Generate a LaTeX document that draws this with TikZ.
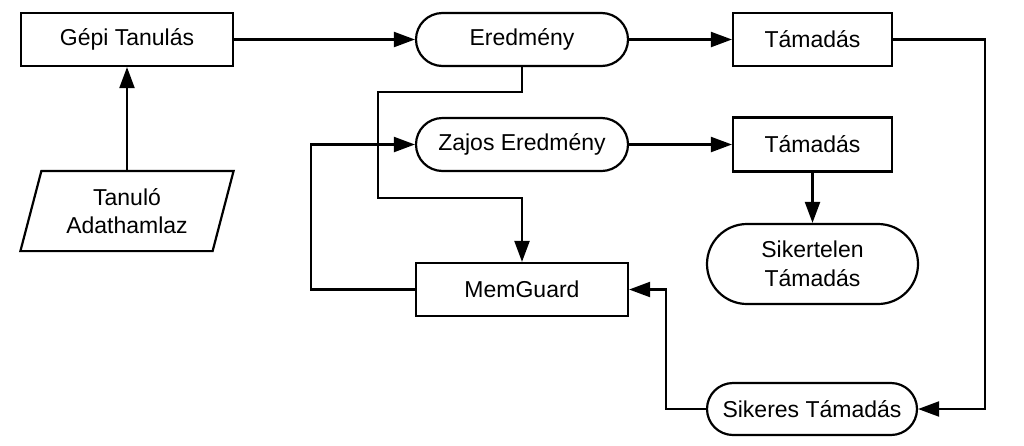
\documentclass[tikz,border=0pt]{standalone}
\usepackage{fontspec}
\setmainfont{Liberation Sans}
\usepackage{tikz}
\usetikzlibrary{shapes.misc,arrows.meta}

\begin{document}
\begin{tikzpicture}[x=1pt,y=-1pt,
  box/.style={draw,line width=2.2pt,minimum width=212pt,minimum height=53pt,inner sep=0pt,align=center,font=\fontsize{23}{28.5}\selectfont},
  pill/.style={box,rounded rectangle},
  arr/.style={line width=2.2pt,-{Triangle[length=21pt,width=15pt]}}]
\useasboundingbox (0,0) rectangle (1024,445);
\node[box] (gepi) at (127,39.5) {G\'epi Tanul\'as};
\node[pill] (ered) at (522,39.5) {Eredm\'eny};
\node[box,minimum width=159pt] (tam1) at (812.5,39.5) {T\'amad\'as};
\node[pill] (zajos) at (522,144.5) {Zajos Eredm\'eny};
\node[box,minimum width=159pt,minimum height=54pt] (tam2) at (812.5,144.5) {T\'amad\'as};
\node[box,draw=none,minimum width=211pt,minimum height=78pt] (adat) at (127,211) {Tanul\'o\\Adathamlaz};
\draw[line width=2.2pt] ([xshift=21pt]adat.north west) -- (adat.north east) -- ([xshift=-21pt]adat.south east) -- (adat.south west) -- cycle;
\node[box] (memg) at (522,289.5) {MemGuard};
\node[pill,minimum width=211pt,minimum height=80pt] (sikertelen) at (812.5,264) {Sikertelen\\T\'amad\'as};
\node[pill,minimum width=210pt,minimum height=52pt] (sikeres) at (812,409) {Sikeres T\'amad\'as};
\draw[arr] (gepi.east) -- (ered.west);
\draw[arr] (ered.east) -- (tam1.west);
\draw[arr] (tam1.east) -- ++(92,0) |- (sikeres.east);
\draw[arr] (adat.north) -- (gepi.south);
\draw[arr] (ered.south) |- (378,92) -- (378,198) -| (memg.north);
\draw[arr] (memg.west) -- ++(-104,0) |- (zajos.west);
\draw[arr] (zajos.east) -- (tam2.west);
\draw[arr] (tam2.south) -- (sikertelen.north);
\draw[arr] (sikeres.west) -- ++(-40,0) |- (memg.east);
\end{tikzpicture}
\end{document}
